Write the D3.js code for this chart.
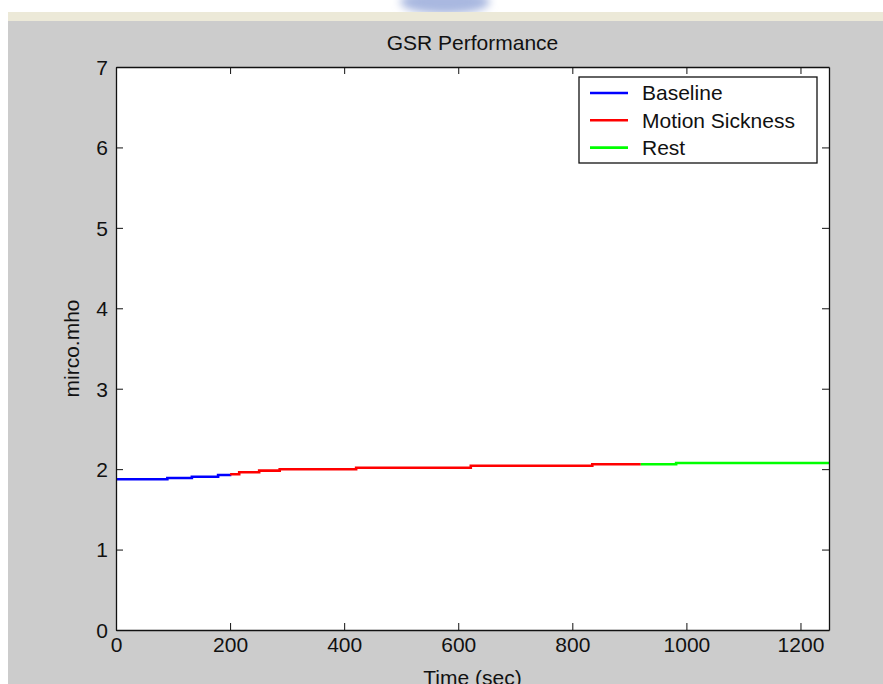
<!DOCTYPE html>
<html>
<head>
<meta charset="utf-8">
<style>
body { margin: 0; background: #fff; }
text { font-family: "Liberation Sans", Arial, sans-serif; fill: #111; }
</style>
</head>
<body>
<svg id="chart" width="883" height="684"></svg>
<script src="https://cdn.jsdelivr.net/npm/d3@7/dist/d3.min.js"></script>
<script>

// step-wise GSR readings, time in sec, value in micro mho
var baselineTime = [0, 90, 133, 179, 200];
var baselineVal  = [1.874, 1.890, 1.906, 1.927, 1.936];

var sicknessTime = [200, 216, 251, 287, 421, 622, 835, 920];
var sicknessVal  = [1.936, 1.961, 1.981, 1.998, 2.018, 2.043, 2.060, 2.060];

var restTime = [920, 982, 1250];
var restVal  = [2.060, 2.076, 2.076];

var seriesNames = ["Baseline", "Motion Sickness", "Rest"];
var seriesColors = ["#0000ff", "#ff0000", "#00ff00"];

var xTicks = [0, 200, 400, 600, 800, 1000, 1200];
var yTicks = [0, 1, 2, 3, 4, 5, 6, 7];

var svg = d3.select("#chart");
var fs = 21;

// window background bits
var defs = svg.append("defs");
defs.append("filter").attr("id", "blur")
  .append("feGaussianBlur").attr("stdDeviation", 4);
svg.append("ellipse")
    .attr("cx", 445).attr("cy", 2).attr("rx", 45).attr("ry", 12)
    .attr("fill", "#a9b8e0").attr("filter", "url(#blur)");
svg.append("rect").attr("x", 8).attr("y", 12).attr("width", 875).attr("height", 10)
    .attr("fill", "#ece9d8");
svg.append("rect").attr("x", 8).attr("y", 21).attr("width", 875).attr("height", 663)
    .attr("fill", "#cccccc");

var pLeft = 116, pRight = 829, pTop = 67, pBottom = 630;

var x = d3.scaleLinear().domain([0, 1250]).range([pLeft, pRight]);
var y = d3.scaleLinear().domain([0, 7]).range([pBottom, pTop]);

svg.append("rect")
    .attr("x", pLeft).attr("y", pTop)
    .attr("width", pRight - pLeft).attr("height", pBottom - pTop)
    .attr("fill", "#fff");

// lines
var line = d3.line()
    .x(function(d) { return x(d[0]); })
    .y(function(d) { return y(d[1]); })
    .curve(d3.curveStepAfter);

var series = [
  d3.zip(baselineTime, baselineVal),
  d3.zip(sicknessTime, sicknessVal),
  d3.zip(restTime, restVal)
];

svg.selectAll(".series")
  .data(series)
  .enter().append("path")
    .attr("class", "series")
    .attr("d", line)
    .attr("fill", "none")
    .attr("stroke", function(d, i) { return seriesColors[i]; })
    .attr("stroke-width", 2.6);

// axes, ticks inward on all sides (matlab box)
function noLabels(a) { return a.tickFormat(""); }

var gB = svg.append("g").attr("transform", "translate(0," + pBottom + ")")
    .call(d3.axisBottom(x).tickValues(xTicks).tickSizeInner(-7).tickSizeOuter(0).tickPadding(10)
      .tickFormat(d3.format("d")));
var gT = svg.append("g").attr("transform", "translate(0," + pTop + ")")
    .call(noLabels(d3.axisTop(x).tickValues(xTicks).tickSizeInner(-7).tickSizeOuter(0)));
var gL = svg.append("g").attr("transform", "translate(" + pLeft + ",0)")
    .call(d3.axisLeft(y).tickValues(yTicks).tickSizeInner(-7).tickSizeOuter(0).tickPadding(8)
      .tickFormat(d3.format("d")));
var gR = svg.append("g").attr("transform", "translate(" + pRight + ",0)")
    .call(noLabels(d3.axisRight(y).tickValues(yTicks).tickSizeInner(-7).tickSizeOuter(0)));

[gB, gT, gL, gR].forEach(function(g) {
  g.select(".domain").attr("stroke", "#111").attr("stroke-width", 1.3);
  g.selectAll(".tick line").attr("stroke", "#111");
  g.selectAll("text").attr("font-size", fs).attr("font-family", null).attr("fill", "#111");
});
gB.selectAll(".tick text").attr("dy", "0.55em");
gL.selectAll(".tick text").attr("dy", "0.35em");

// title and labels
svg.append("text")
    .attr("x", (pLeft + pRight) / 2).attr("y", 50)
    .attr("text-anchor", "middle").attr("font-size", fs)
    .text("GSR Performance");

svg.append("text")
    .attr("x", (pLeft + pRight) / 2).attr("y", 685)
    .attr("text-anchor", "middle").attr("font-size", fs)
    .text("Time (sec)");

svg.append("text")
    .attr("transform", "translate(79," + ((pTop + pBottom) / 2) + ") rotate(-90)")
    .attr("text-anchor", "middle").attr("font-size", fs)
    .text("mirco.mho");

// legend
var lg = svg.append("g").attr("transform", "translate(579,77)");
lg.append("rect").attr("width", 238).attr("height", 86)
    .attr("fill", "#fff").attr("stroke", "#111").attr("stroke-width", 1.3);

var item = lg.selectAll(".item")
  .data(seriesNames)
  .enter().append("g")
    .attr("class", "item")
    .attr("transform", function(d, i) { return "translate(0," + (16 + i * 27.3) + ")"; });

item.append("line")
    .attr("x1", 11).attr("x2", 49)
    .attr("stroke", function(d, i) { return seriesColors[i]; })
    .attr("stroke-width", 2.6);

item.append("text")
    .attr("x", 63).attr("dy", "0.35em").attr("font-size", fs)
    .text(function(d) { return d; });

</script>
</body>
</html>
